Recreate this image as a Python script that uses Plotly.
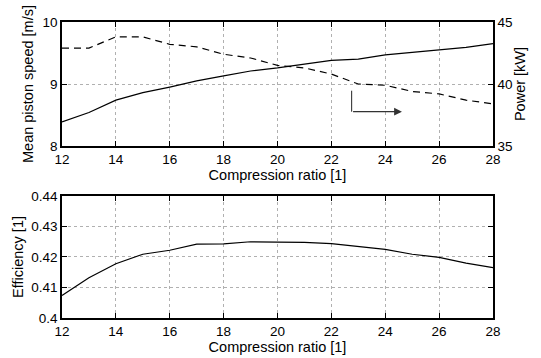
import plotly.graph_objects as go

ratio = list(range(12, 29))
piston_speed = [8.39, 8.54, 8.74, 8.86, 8.95, 9.05, 9.13, 9.21, 9.26, 9.32, 9.38, 9.40, 9.47, 9.51, 9.55, 9.59, 9.65]
power = [42.9, 42.9, 43.8, 43.8, 43.2, 43.0, 42.4, 42.1, 41.5, 41.3, 40.8, 40.0, 39.9, 39.4, 39.2, 38.7, 38.4]
efficiency = [0.4074, 0.4132, 0.4178, 0.4209, 0.4222, 0.4242, 0.4243, 0.4250, 0.4249, 0.4248,
              0.4244, 0.4235, 0.4225, 0.4209, 0.4199, 0.4180, 0.4165]

x_ticks = [12, 14, 16, 18, 20, 22, 24, 26, 28]
speed_ticks = [8, 9, 10]
power_ticks = [35, 40, 45]
eff_ticks = [0.40, 0.41, 0.42, 0.43, 0.44]
eff_tick_text = ["0.4", "0.41", "0.42", "0.43", "0.44"]

# arrow indicating dashed curve belongs to right axis
arrow_x0, arrow_x1 = 22.75, 24.62
arrow_ytop, arrow_y = 39.46, 37.77

FONT = "Liberation Sans, Arial, sans-serif"
TICK = dict(size=13.5, color="black")
TITLE = dict(size=14.5, color="black")

fig = go.Figure()
fig.add_trace(go.Scatter(x=ratio, y=piston_speed, mode="lines", line=dict(color="black", width=1.2),
                         xaxis="x", yaxis="y", showlegend=False))
fig.add_trace(go.Scatter(x=ratio, y=power, mode="lines", line=dict(color="black", width=1.2, dash="7px,5px"),
                         xaxis="x", yaxis="y2", showlegend=False))
fig.add_trace(go.Scatter(x=ratio, y=efficiency, mode="lines", line=dict(color="black", width=1.2),
                         xaxis="x2", yaxis="y3", showlegend=False))

common_x = dict(range=[12, 28], tickvals=x_ticks, ticks="inside", ticklen=5, tickcolor="black",
                showline=True, linecolor="black", linewidth=1.5, mirror="ticks", automargin=False,
                showgrid=True, gridcolor="#b0b0b0", griddash="dot", gridwidth=1, zeroline=False,
                tickfont=TICK, title=dict(text="Compression ratio [1]", font=TITLE, standoff=0))
common_y = dict(ticks="inside", ticklen=5, tickcolor="black", showline=True, linecolor="black", linewidth=1.5,
                showgrid=True, gridcolor="#b0b0b0", griddash="dot", gridwidth=1, zeroline=False,
                automargin=False, tickfont=TICK)

fig.update_layout(
    width=541, height=358,
    margin=dict(l=62, r=48, t=22, b=40),
    paper_bgcolor="white", plot_bgcolor="white",
    font=dict(family=FONT, size=13, color="black"),
    xaxis=dict(domain=[0, 1], anchor="y", **common_x),
    yaxis=dict(domain=[0.581, 1], anchor="x", range=[8, 10], tickvals=speed_ticks, mirror=True,
               title=dict(text="Mean piston speed [m/s]", font=TITLE, standoff=5), **common_y),
    yaxis2=dict(overlaying="y", side="right", anchor="x", range=[35, 45], tickvals=power_ticks,
                ticks="inside", ticklen=5, tickcolor="black", showline=True, linecolor="black", linewidth=1.5,
                showgrid=False, zeroline=False, automargin=False, tickfont=TICK,
                title=dict(text="Power [kW]", font=TITLE, standoff=3)),
    xaxis2=dict(domain=[0, 1], anchor="y3", **common_x),
    yaxis3=dict(domain=[0, 0.4122], anchor="x2", range=[0.40, 0.44], tickvals=eff_ticks, ticktext=eff_tick_text,
                mirror="ticks", title=dict(text="Efficiency [1]", font=TITLE, standoff=4), **common_y),
)

fig.add_shape(type="line", xref="x", yref="y2", x0=arrow_x0, x1=arrow_x0, y0=arrow_ytop, y1=arrow_y,
              line=dict(color="#444", width=1.2))
fig.add_annotation(xref="x", yref="y2", axref="x", ayref="y2", x=arrow_x1, y=arrow_y, ax=arrow_x0, ay=arrow_y,
                   text="", showarrow=True, arrowhead=2, arrowsize=1.3, arrowwidth=1.2, arrowcolor="#333")

fig.write_html("out.html", config={"displayModeBar": False},
               post_script="document.body.style.margin='0';document.body.style.overflow='hidden';")
